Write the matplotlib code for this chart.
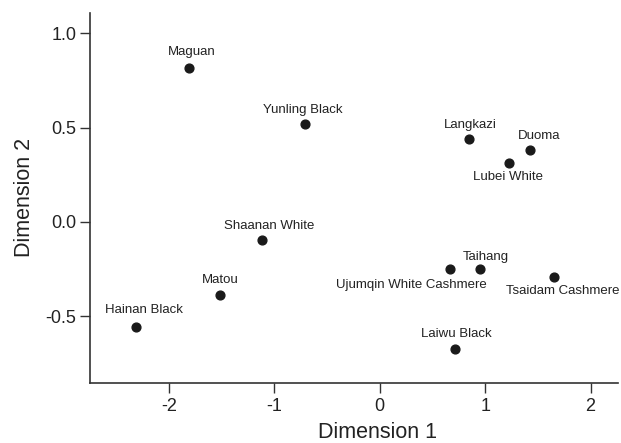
import matplotlib.pyplot as plt

plt.rcParams['font.family'] = ['Liberation Sans', 'DejaVu Sans']

# MDS coordinates
breeds = ['Maguan', 'Yunling Black', 'Langkazi', 'Duoma', 'Lubei White',
          'Shaanan White', 'Matou', 'Hainan Black', 'Ujumqin White Cashmere',
          'Taihang', 'Tsaidam Cashmere', 'Laiwu Black']
dim1 = [-1.81, -0.71, 0.85, 1.43, 1.23, -1.115, -1.52, -2.31, 0.667, 0.95, 1.65, 0.71]
dim2 = [0.817, 0.52, 0.44, 0.38, 0.313, -0.097, -0.387, -0.557, -0.25, -0.25, -0.29, -0.675]

# label offsets (pixels) relative to each point
label_dx = [3, -2, 1, 9, -1, 7, 1, 8, -39, 6, 9, 2]
label_dy = [16, 14, 14, 14, -14, 14, 15, 17, -16, 12, -14, 15]

fig = plt.figure(figsize=(6.21, 4.43), dpi=100)
ax = fig.add_axes([0.145, 0.136, 0.85, 0.835])

ax.scatter(dim1, dim2, s=40, color='#1a1a1a', zorder=3)
for name, x, y, dx, dy in zip(breeds, dim1, dim2, label_dx, label_dy):
    ax.annotate(name, (x, y), xytext=(dx, dy), textcoords='offset pixels',
                ha='center', va='center', fontsize=9.5, color='#222222',
                annotation_clip=False)

ax.set_xlim(-2.75, 2.26)
ax.set_ylim(-0.852, 1.108)
ax.set_xticks([-2, -1, 0, 1, 2])
ax.set_yticks([-0.5, 0.0, 0.5, 1.0])
ax.set_yticklabels(['-0.5', '0.0', '0.5', '1.0'])
ax.set_xticklabels(['-2', '-1', '0', '1', '2'])

for side in ['top', 'right']:
    ax.spines[side].set_visible(False)
for side in ['left', 'bottom']:
    ax.spines[side].set_linewidth(1.2)
    ax.spines[side].set_color('#333333')

ax.tick_params(direction='out', length=7, width=1.0, color='#333333',
               labelsize=13, pad=3, labelcolor='#222222')
ax.tick_params(axis='x', pad=4)
ax.set_xlabel('Dimension 1', fontsize=15.5, color='#222222')
ax.set_ylabel('Dimension 2', fontsize=15.5, color='#222222')
ax.xaxis.set_label_coords(0.544, -0.107)
ax.yaxis.set_label_coords(-0.105, 0.5)

fig.savefig('out.png', dpi=100)
